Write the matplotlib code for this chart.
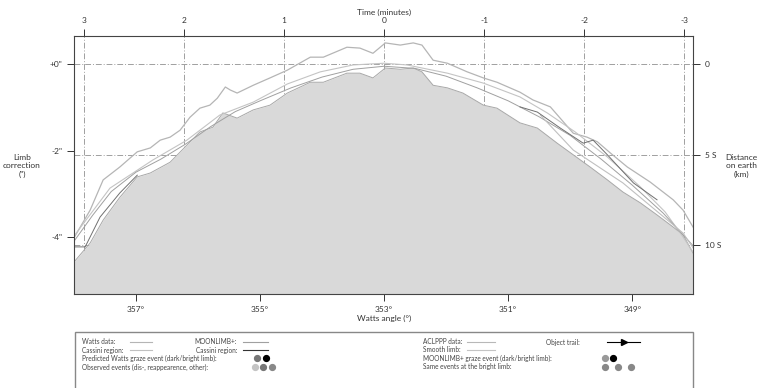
import numpy as np
import matplotlib
matplotlib.use("Agg")
import matplotlib.pyplot as plt
from matplotlib.lines import Line2D
from matplotlib.patches import Rectangle

plt.rcParams['font.family'] = ['Lato', 'DejaVu Sans']

# --- data (Watts angle in deg, limb correction in arcsec) ---
fill_ang = [358.00, 357.74, 357.53, 357.26, 356.98, 356.77, 356.45, 356.21, 355.97, 355.76,
            355.60, 355.37, 355.11, 354.84, 354.56, 354.19, 353.98, 353.60, 353.39, 353.18,
            352.98, 352.74, 352.53, 352.39, 352.21, 351.98, 351.73, 351.40, 351.18, 350.81,
            350.53, 350.21, 349.95, 349.68, 349.40, 349.15, 348.87, 348.60, 348.34, 348.18, 348.02]
fill_lim = [-4.58, -4.14, -3.61, -3.08, -2.61, -2.52, -2.27, -1.92, -1.57, -1.46,
            -1.13, -1.25, -1.06, -0.95, -0.67, -0.42, -0.42, -0.21, -0.21, -0.32,
            -0.09, -0.12, -0.09, -0.18, -0.49, -0.55, -0.67, -0.95, -1.02, -1.36,
            -1.48, -1.83, -2.10, -2.38, -2.68, -2.96, -3.21, -3.49, -3.77, -3.95, -4.37]

upper_ang = [358.00, 357.74, 357.53, 357.26, 356.98, 356.77, 356.61, 356.45, 356.29, 356.13,
             355.97, 355.81, 355.69, 355.56, 355.48, 355.37, 355.11, 354.84, 354.56, 354.19,
             353.98, 353.60, 353.39, 353.18, 352.98, 352.74, 352.53, 352.39, 352.21, 351.98,
             351.66, 351.40, 351.18, 350.81, 350.60, 350.32, 349.95, 349.73, 349.56, 349.35,
             349.08, 348.71, 348.34, 348.18, 348.02]
upper_lim = [-4.02, -3.38, -2.68, -2.38, -2.03, -1.94, -1.76, -1.69, -1.53, -1.23,
             -1.02, -0.95, -0.79, -0.53, -0.60, -0.67, -0.49, -0.32, -0.14, 0.16,
             0.16, 0.39, 0.37, 0.25, 0.49, 0.44, 0.49, 0.44, 0.09, 0.02,
             -0.18, -0.32, -0.42, -0.65, -0.83, -0.99, -1.60, -1.69, -1.80, -2.06,
             -2.38, -2.73, -3.14, -3.38, -3.77]

smooth_ang = [358.00, 357.42, 356.73, 356.18, 355.65, 355.11, 354.56, 354.03, 353.50, 353.00,
              352.63, 351.98, 351.40, 350.81, 350.37, 349.92, 349.40, 348.87, 348.47, 348.18, 348.02]
smooth_lim = [-3.98, -2.87, -2.22, -1.76, -1.18, -0.88, -0.46, -0.18, -0.02, 0.02,
              -0.02, -0.21, -0.44, -0.76, -1.13, -1.57, -2.15, -2.84, -3.42, -4.00, -4.35]

moon_ang = [358.00, 357.70, 357.40, 357.00, 356.60, 356.20, 355.80, 355.40, 355.00, 354.50,
            354.00, 353.50, 353.00, 352.50, 352.00, 351.50, 351.00, 350.50, 350.00, 349.50,
            349.00, 348.50, 348.02]
moon_lim = [-4.10, -3.50, -2.95, -2.50, -2.20, -1.85, -1.45, -1.10, -0.85, -0.55,
            -0.30, -0.12, -0.05, -0.10, -0.28, -0.55, -0.85, -1.22, -1.65, -2.20,
            -2.80, -3.45, -4.20]

cass_l_ang = [358.00, 357.82, 357.58, 357.26, 356.98]
cass_l_lim = [-4.23, -4.23, -3.54, -2.98, -2.57]
cass_r_ang = [350.81, 350.53, 350.16, 349.79, 349.63, 349.40, 348.98, 348.60]
cass_r_lim = [-0.99, -1.11, -1.48, -1.83, -1.76, -2.10, -2.75, -3.14]

acl_ang = [350.48, 349.95, 349.15, 348.18, 348.02]
acl_lim = [-1.18, -1.99, -2.75, -3.91, -4.25]

time_ticks = [3, 2, 1, 0, -1, -2, -3]
km_ticks = [0, 5, 10]
km_labels = ['0', '5 S', '10 S']
lim_ticks = [0, -2, -4]
lim_labels = ['+0"', '-2"', '-4"']
ang_ticks = [357, 355, 353, 351, 349]

DEG_PER_MIN = 1.613
KM_PER_ARCSEC = 2.39

W, H = 758, 388
fig = plt.figure(figsize=(W / 100, H / 100), dpi=100)

def fx(x):
    return x / W

def fy(y):
    return 1 - y / H

ax = fig.add_axes([fx(74), fy(294), fx(693) - fx(74), fy(36) - fy(294)])
ax.set_xlim(358.0, 348.02)
ax.set_ylim(-5.32, 0.65)

ax.fill_between(fill_ang, fill_lim, -6, color='#d9d9d9', lw=0)
ax.plot(fill_ang, fill_lim, color='#a8a8a8', lw=0.7)
ax.plot(upper_ang, upper_lim, color='#b5b5b5', lw=0.9)
ax.plot(smooth_ang, smooth_lim, color='#c4c4c4', lw=0.8)
ax.plot(moon_ang, moon_lim, color='#a0a0a0', lw=0.7)
ax.plot(acl_ang, acl_lim, color='#c0c0c0', lw=0.8)
ax.plot(cass_l_ang, cass_l_lim, color='#707070', lw=0.7)
ax.plot(cass_r_ang, cass_r_lim, color='#707070', lw=0.7)

grid_kw = dict(color='#a0a0a0', lw=0.7, ls=(0, (6, 2, 1, 2)), zorder=0.5)
for t in time_ticks:
    ax.axvline(353 + DEG_PER_MIN * t, **grid_kw)
for k in km_ticks:
    ax.axhline(-k / KM_PER_ARCSEC, **grid_kw)

tick_kw = dict(labelsize=6, colors='#333333', length=5, width=0.7)
ax.set_xticks(ang_ticks)
ax.set_xticklabels([f'{a}°' for a in ang_ticks])
ax.set_yticks(lim_ticks)
ax.set_yticklabels(lim_labels)
ax.tick_params(axis='both', direction='out', **tick_kw)
for s in ax.spines.values():
    s.set_color('#444444')
    s.set_linewidth(0.8)

top = ax.secondary_xaxis('top', functions=(lambda a: (a - 353) / DEG_PER_MIN,
                                           lambda t: 353 + DEG_PER_MIN * t))
top.set_xticks(time_ticks)
top.set_xticklabels([str(t) for t in time_ticks])
top.tick_params(direction='out', **tick_kw)
top.spines['top'].set_visible(False)

right = ax.secondary_yaxis('right', functions=(lambda l: -l * KM_PER_ARCSEC,
                                               lambda k: -k / KM_PER_ARCSEC))
right.set_yticks(km_ticks)
right.set_yticklabels(km_labels)
right.tick_params(direction='out', **tick_kw)
right.spines['right'].set_visible(False)

txt = dict(fontsize=6, color='#333333')
fig.text(fx(384), fy(12), 'Time (minutes)', ha='center', va='center', **txt)
fig.text(fx(384), fy(318), 'Watts angle (°)', ha='center', va='center', **txt)
fig.text(fx(22), fy(166), 'Limb\ncorrection\n(")', ha='center', va='center', linespacing=1.3, **txt)
fig.text(fx(741), fy(166), 'Distance\non earth\n(km)', ha='center', va='center', linespacing=1.3, **txt)

# --- legend box ---
fig.add_artist(Rectangle((fx(75), fy(395)), fx(693) - fx(75), fy(332) - fy(395),
                         transform=fig.transFigure, fill=False, ec='#888888', lw=1))
rows = [342, 350, 358, 367]
lt = dict(fontsize=4.7, color='#444444', va='center')

def seg(x0, x1, y, color):
    fig.add_artist(Line2D([fx(x0), fx(x1)], [fy(y), fy(y)], transform=fig.transFigure,
                          color=color, lw=0.8))

def dots(xs, y, colors):
    for x, c in zip(xs, colors):
        fig.add_artist(Line2D([fx(x)], [fy(y)], transform=fig.transFigure, marker='o',
                              ms=4.2, mfc=c, mec=c, ls='none'))

fig.text(fx(82), fy(rows[0]), 'Watts data:', **lt)
seg(130, 152, rows[0], '#b5b5b5')
fig.text(fx(237), fy(rows[0]), 'MOONLIMB+:', ha='right', **lt)
seg(243, 268, rows[0], '#a0a0a0')
fig.text(fx(82), fy(rows[1]), 'Cassini region:', **lt)
seg(130, 152, rows[1], '#c0c0c0')
fig.text(fx(237), fy(rows[1]), 'Cassini region:', ha='right', **lt)
seg(243, 268, rows[1], '#333333')
fig.text(fx(82), fy(rows[2]), 'Predicted Watts graze event (dark/bright limb):', **lt)
dots([257, 266], rows[2], ['#777777', '#000000'])
fig.text(fx(82), fy(rows[3]), 'Observed events (dis-, reappearence, other):', **lt)
dots([255, 263, 272], rows[3], ['#c4c4c4', '#777777', '#888888'])

fig.text(fx(423), fy(rows[0]), 'ACLPPP data:', **lt)
seg(467, 495, rows[0], '#b8b8b8')
fig.text(fx(580), fy(rows[0]), 'Object trail:', ha='right', **lt)
seg(607, 640, rows[0], '#000000')
fig.add_artist(Line2D([fx(624)], [fy(rows[0])], transform=fig.transFigure, marker='>',
                      ms=5, color='#000000', ls='none'))
fig.text(fx(423), fy(rows[1]), 'Smooth limb:', **lt)
seg(467, 495, rows[1], '#c4c4c4')
fig.text(fx(423), fy(rows[2]), 'MOONLIMB+ graze event (dark/bright limb):', **lt)
dots([605, 613], rows[2], ['#999999', '#000000'])
fig.text(fx(423), fy(rows[3]), 'Same events at the bright limb:', **lt)
dots([605, 618, 631], rows[3], ['#888888', '#888888', '#888888'])

fig.savefig('out.png', dpi=100)
